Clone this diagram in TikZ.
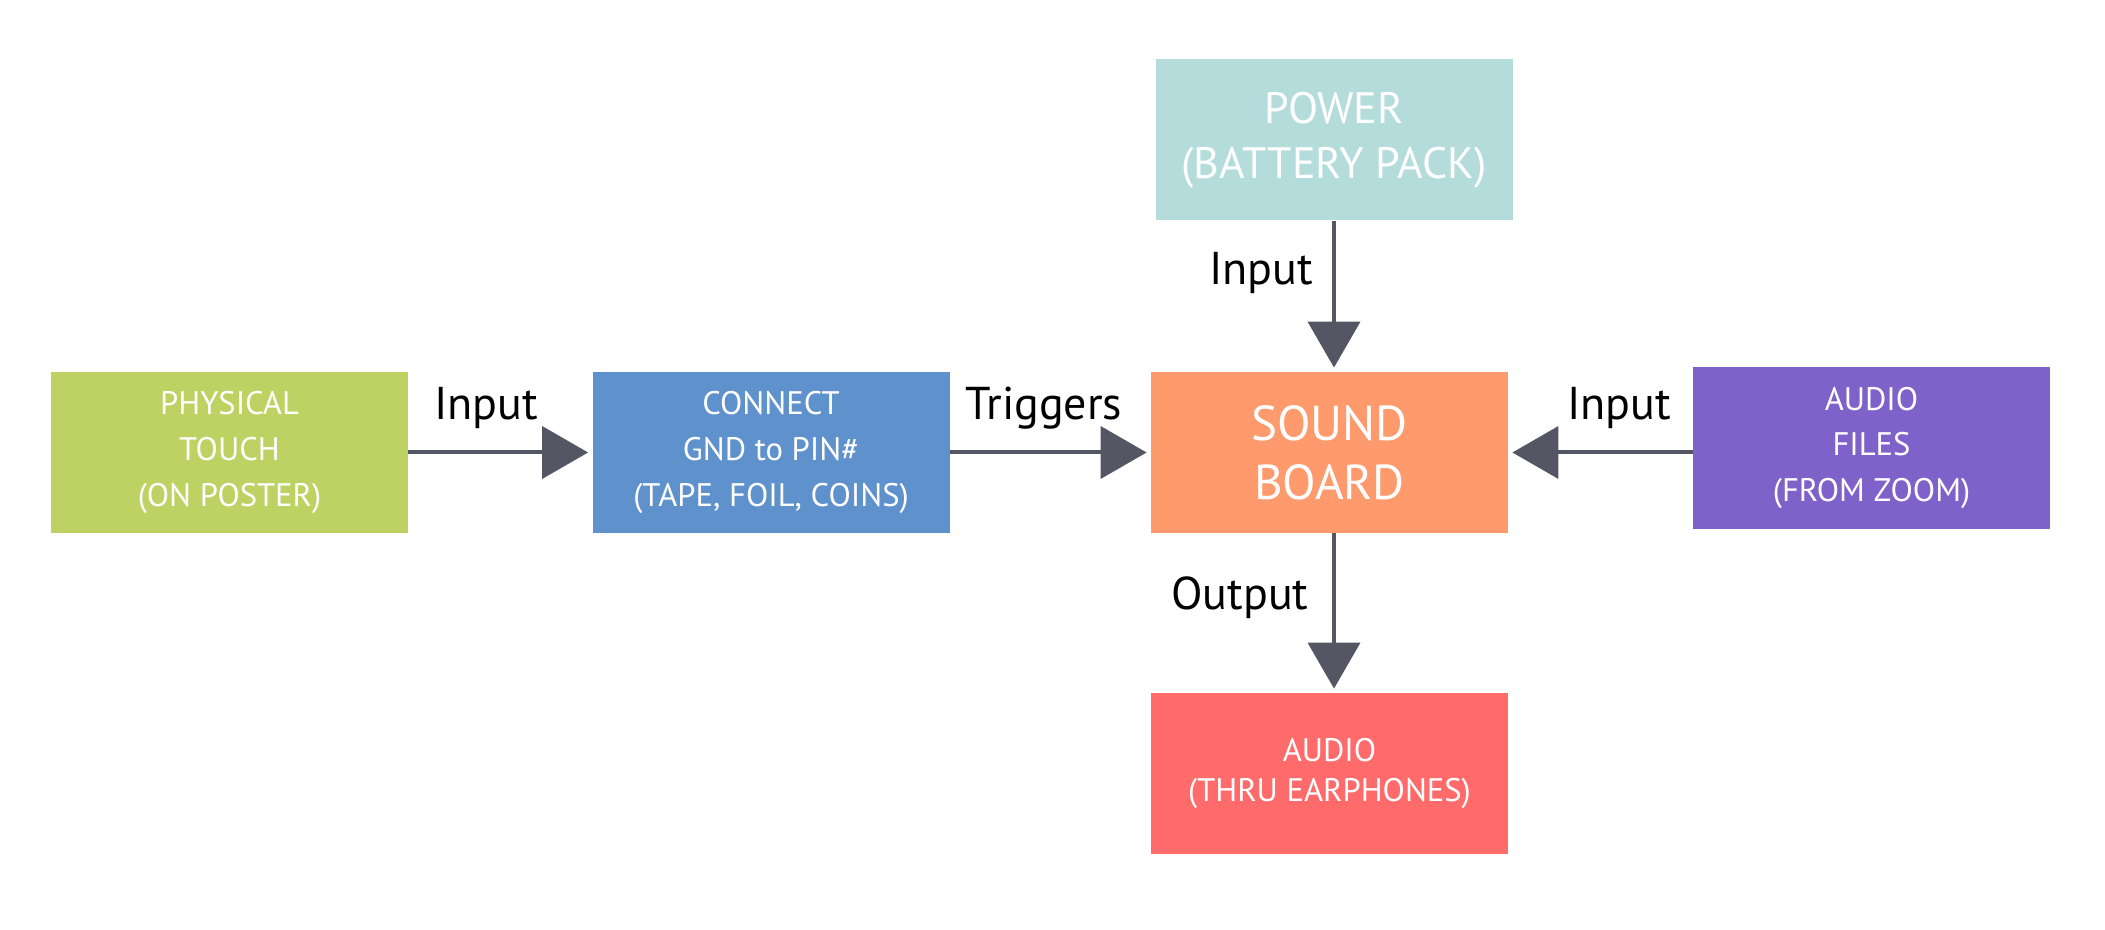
\documentclass[tikz,border=0pt]{standalone}
\usepackage{fontspec}
\setmainfont{PT Sans}
\usetikzlibrary{arrows.meta}
\definecolor{cgreen}{HTML}{BDD262}
\definecolor{cblue}{HTML}{5F91CC}
\definecolor{corange}{HTML}{FF9A6C}
\definecolor{cteal}{HTML}{B3DCDB}
\definecolor{cpurple}{HTML}{7E62C9}
\definecolor{cred}{HTML}{FF6B6B}
\definecolor{carrow}{HTML}{545664}
\tikzset{
  box/.style={rectangle, inner sep=0pt, minimum width=178.5pt, minimum height=80.5pt,
    text=white, align=center, font=\fontsize{16.3}{22.8}\selectfont},
  arr/.style={draw=carrow, line width=2pt, -{Triangle[length=23pt 0 0,width=26pt 0 0]}, shorten >=2pt},
  lbl/.style={font=\fontsize{23}{27}\selectfont, text=black}
}
\begin{document}
\begin{tikzpicture}[x=0.5pt,y=-0.5pt]
\useasboundingbox (0,0) rectangle (2105,930);
\node[box, fill=cgreen] (touch) at (229.5,452.5) {PHYSICAL\\TOUCH\\(ON POSTER)};
\node[box, fill=cblue] (connect) at (771,452.5) {CONNECT\\GND to PIN\#\\(TAPE, FOIL, COINS)};
\node[box, fill=corange, font=\fontsize{24.5}{29.5}\selectfont] (sb) at (1329.5,452.5) {SOUND\\BOARD};
\node[box, fill=cteal, font=\fontsize{22}{27.5}\selectfont] (power) at (1334,140) {POWER\\(BATTERY PACK)};
\node[box, fill=cpurple, minimum height=81pt] (files) at (1871.5,447.7) {AUDIO\\FILES\\(FROM ZOOM)};
\node[box, fill=cred, font=\fontsize{16.3}{20}\selectfont] (audio) at (1329.5,773.5) {AUDIO\\(THRU EARPHONES)};
\draw[arr] (touch.east) -- (connect.west);
\draw[arr] (connect.east) -- (sb.west);
\draw[arr] (files.west |- sb.east) -- (sb.east);
\draw[arr] (power.south) -- (power.south |- sb.north);
\draw[arr] ([xshift=2.25pt]sb.south) -- ([xshift=2.25pt]audio.north);
\node[lbl] (l1) at (486,408) {Input};
\node[lbl] (l2) at (1044,408) {Triggers};
\node[lbl] (l3) at (1261,273) {Input};
\node[lbl] (l4) at (1619,408) {Input};
\node[lbl] (l5) at (1240,598) {Output};
\end{tikzpicture}
\end{document}
